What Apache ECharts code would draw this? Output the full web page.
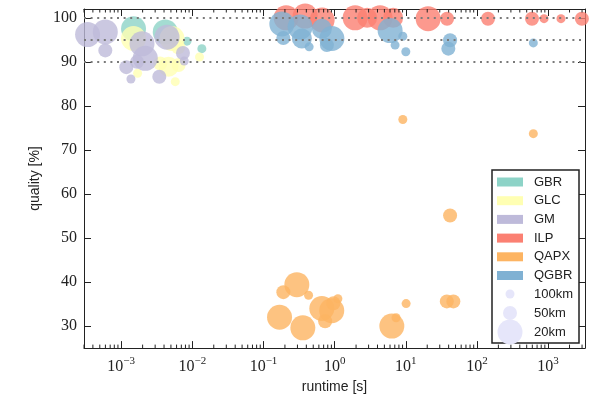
<!DOCTYPE html>
<html>
<head>
<meta charset="utf-8">
<script src="https://cdn.jsdelivr.net/npm/echarts@6/dist/echarts.min.js"></script>
<style>
html, body { margin: 0; padding: 0; background: #fff; }
#chart { width: 598px; height: 399px; }
</style>
</head>
<body>
<div id="chart"></div>
<script>
// each point: [runtime (s), quality (%), grid size (km)]
const gbr = [
  [1.49e-3, 97.5, 20], [4.16e-3, 96.8, 20], [8.4e-3, 94.7, 100], [0.0136, 93.0, 100]
]
const glc = [
  [1.49e-3, 95.3, 20], [5.17e-3, 95.3, 20], [4.63e-3, 88.9, 30], [6.4e-3, 89.3, 50],
  [5.75e-3, 85.5, 100], [1.7e-3, 87.4, 100], [0.0126, 91.1, 100], [3.54e-3, 89.6, 50],
  [6.33e-3, 93.3, 50]
]
const gm = [
  [3.37e-4, 96.2, 20], [5.98e-4, 96.8, 20], [5.98e-4, 92.6, 50], [1.18e-3, 88.8, 50],
  [1.37e-3, 86.1, 100], [1.96e-3, 94.1, 20], [2.18e-3, 90.8, 20], [4.4e-3, 95.6, 20],
  [7.38e-3, 92.0, 50], [3.43e-3, 86.6, 50], [1.67e-3, 90.0, 50], [7.7e-3, 90.2, 100]
]
const ilp = [
  [0.208, 100.0, 20], [0.385, 100.4, 20], [0.667, 99.5, 20], [1.94, 100.0, 20],
  [2.86, 100.0, 30], [4.35, 100.0, 20], [6.63, 100.0, 30], [20.6, 99.8, 20],
  [38.0, 99.8, 50], [143, 99.8, 50], [594, 99.8, 50], [877, 99.8, 100],
  [1517, 99.8, 100], [2985, 99.8, 50]
]
const qapx = [
  [0.294, 39.4, 20], [0.19, 37.7, 50], [0.43, 37.0, 100], [0.168, 32.0, 20],
  [0.357, 29.6, 20], [0.66, 34.0, 20], [0.91, 33.5, 20], [0.735, 31.1, 50],
  [1.11, 36.2, 100], [0.96, 35.2, 50], [10.1, 35.1, 100], [6.36, 30.0, 20],
  [7.3, 31.9, 100], [37.7, 35.6, 50], [46.6, 35.6, 50], [41.9, 55.1, 50],
  [9.08, 76.9, 100], [620, 73.7, 100]
]
const qgbr = [
  [0.181, 98.6, 20], [0.19, 95.4, 50], [0.327, 97.9, 20], [0.346, 95.3, 30],
  [0.438, 93.4, 100], [0.661, 97.5, 30], [0.914, 95.3, 20], [0.777, 93.8, 50],
  [6.02, 97.1, 20], [7.07, 93.8, 100], [9.08, 95.8, 100], [10.0, 92.3, 100],
  [41.9, 94.9, 50], [39.6, 93.0, 50], [620, 94.3, 100]
]

const seriesNames = ['GBR', 'GLC', 'GM', 'ILP', 'QAPX', 'QGBR']
const seriesData = [gbr, glc, gm, ilp, qapx, qgbr]
const colors = ['#8dd3c7', '#ffffb3', '#bebada', '#fb8072', '#fdb462', '#80b1d3']

const decadeTicks = [1e-3, 1e-2, 1e-1, 1, 10, 100, 1000]
const qualityTicks = [30, 40, 50, 60, 70, 80, 90, 100]
const refLines = [100, 95, 90]
const sizeLegend = [100, 50, 20]

const xMin = 3e-4, xMax = 3.3e3, yMin = 25, yMax = 102
const kmSize = { 100: 9, 50: 14, 30: 20, 20: 25 }

// minor ticks 2..9 per decade
const minorTicks = []
for (let e = -4; e <= 3; e++) {
  for (let k = 2; k <= 9; k++) {
    const v = k * Math.pow(10, e)
    if (v > xMin && v < xMax) minorTicks.push([v])
  }
}

const chart = echarts.init(document.getElementById('chart'))

const axisLine = { lineStyle: { color: '#222', width: 1 } }
const serif = 'Liberation Serif'
const sans = 'Liberation Sans'

const series = seriesNames.map((name, i) => ({
  name: name,
  type: 'scatter',
  data: seriesData[i],
  symbolSize: d => kmSize[d[2]],
  itemStyle: { color: colors[i], opacity: 0.8 },
  z: 2 + i * 0.01
}))

series.push({
  name: 'minor',
  type: 'custom',
  silent: true,
  data: minorTicks,
  z: 6,
  renderItem: (params, api) => {
    const v = api.value(0)
    const b = api.coord([v, yMin])
    const t = api.coord([v, yMax])
    return {
      type: 'group',
      children: [
        { type: 'line', shape: { x1: b[0], y1: b[1], x2: b[0], y2: b[1] - 3.5 }, style: { stroke: '#222', lineWidth: 1 } },
        { type: 'line', shape: { x1: t[0], y1: t[1], x2: t[0], y2: t[1] + 3.5 }, style: { stroke: '#222', lineWidth: 1 } }
      ]
    }
  }
})

series.push({
  name: 'ref',
  type: 'line',
  data: [],
  z: 5,
  markLine: {
    silent: true,
    symbol: ['none', 'none'],
    label: { show: false },
    lineStyle: { color: '#7a7a7a', type: [2, 4.6], width: 2 },
    data: refLines.map(v => ({ yAxis: v }))
  }
})

sizeLegend.forEach(km => {
  series.push({
    name: km + 'km',
    type: 'scatter',
    data: [],
    itemStyle: { color: '#e6e6fa' }
  })
})

const legends = [{
  orient: 'vertical',
  left: 497,
  top: 175.5,
  padding: 0,
  itemWidth: 26,
  itemHeight: 9,
  itemGap: 5.7,
  selectedMode: false,
  z: 10,
  textStyle: { fontSize: 13, fontFamily: sans, color: '#222', padding: [0, 0, 0, 6] },
  data: seriesNames.map((n, i) => ({ name: n, icon: 'rect', itemStyle: { color: colors[i], opacity: 1 } }))
}]
const legendRowY = [294, 313, 332]
sizeLegend.forEach((km, i) => {
  const d = kmSize[km]
  legends.push({
    orient: 'vertical',
    left: 510 - d / 2,
    top: legendRowY[i] - Math.max(d, 13) / 2,
    padding: 0,
    itemWidth: d,
    itemHeight: d,
    selectedMode: false,
    z: 10,
    textStyle: { fontSize: 13, fontFamily: sans, color: '#222', padding: [0, 0, 0, 534 - (510 + d / 2 + 5)] },
    data: [{ name: km + 'km', icon: 'circle', itemStyle: { color: '#e6e6fa', opacity: 1 } }]
  })
})

const option = {
  animation: false,
  backgroundColor: '#fff',
  grid: { left: 84, right: 13, top: 9, bottom: 48 },
  legend: legends,
  graphic: [{
    type: 'rect',
    z: 8,
    shape: { x: 492, y: 170, width: 87, height: 173 },
    style: { fill: '#fff', stroke: '#222', lineWidth: 1.5 }
  }],
  xAxis: [{
    type: 'log',
    min: xMin,
    max: xMax,
    position: 'bottom',
    axisLine: axisLine,
    axisTick: { inside: true, length: 7, lineStyle: { color: '#222' }, customValues: decadeTicks },
    axisLabel: {
      margin: 8,
      customValues: decadeTicks,
      formatter: v => {
        const e = Math.round(Math.log10(v))
        return '{b|10}{s|' + (e < 0 ? '\u2212' + (-e) : e) + '}'
      },
      rich: {
        b: { fontSize: 16, fontFamily: serif, color: '#222', verticalAlign: 'bottom' },
        s: { fontSize: 11, fontFamily: serif, color: '#222', verticalAlign: 'bottom', padding: [0, 0, 8, 0] }
      }
    },
    splitLine: { show: false },
    name: 'runtime [s]',
    nameLocation: 'middle',
    nameGap: 30,
    nameTextStyle: { fontSize: 14, fontFamily: sans, color: '#222' }
  }, {
    type: 'log',
    min: xMin,
    max: xMax,
    position: 'top',
    axisLine: axisLine,
    axisTick: { inside: true, length: 7, lineStyle: { color: '#222' }, customValues: decadeTicks },
    axisLabel: { show: false },
    splitLine: { show: false }
  }],
  yAxis: [{
    type: 'value',
    min: yMin,
    max: yMax,
    position: 'left',
    axisLine: { show: true, lineStyle: { color: '#222', width: 1 } },
    axisTick: { show: true, inside: true, length: 7, lineStyle: { color: '#222' }, customValues: qualityTicks },
    axisLabel: { margin: 7, customValues: qualityTicks, fontSize: 16, fontFamily: serif, color: '#222' },
    splitLine: { show: false },
    name: 'quality [%]',
    nameLocation: 'middle',
    nameGap: 42,
    nameTextStyle: { fontSize: 14, fontFamily: sans, color: '#222' }
  }, {
    type: 'value',
    min: yMin,
    max: yMax,
    position: 'right',
    axisLine: { show: true, lineStyle: { color: '#222', width: 1 } },
    axisTick: { show: true, inside: true, length: 7, lineStyle: { color: '#222' }, customValues: qualityTicks },
    axisLabel: { show: false },
    splitLine: { show: false }
  }],
  series: series
}

chart.setOption(option)
</script>
</body>
</html>
